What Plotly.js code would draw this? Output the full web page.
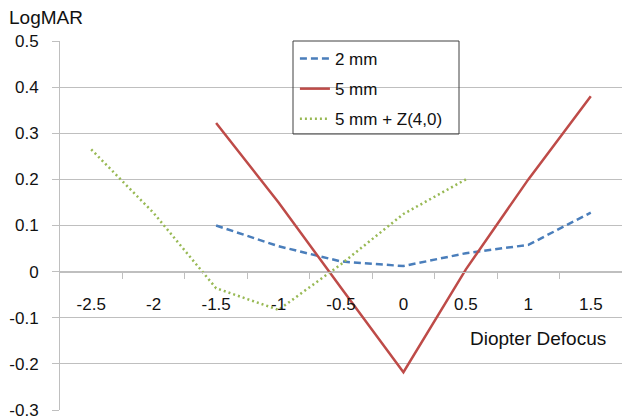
<!DOCTYPE html>
<html>
<head>
<meta charset="utf-8">
<script src="https://cdn.plot.ly/plotly-3.0.1.min.js"></script>
<style>html,body{margin:0;padding:0;background:#fff;}#chart{width:622px;height:419px;}</style>
</head>
<body>
<div id="chart"></div>
<script>
// Data
const defocus = [-2.5, -2, -1.5, -1, -0.5, 0, 0.5, 1, 1.5];
const xTickLabels = ['-2.5', '-2', '-1.5', '-1', '-0.5', '0', '0.5', '1', '1.5'];
const yTickVals = [-0.3, -0.2, -0.1, 0, 0.1, 0.2, 0.3, 0.4, 0.5];
const yTickLabels = ['-0.3', '-0.2', '-0.1', '0', '0.1', '0.2', '0.3', '0.4', '0.5'];
const defocus2mm = [-1.5, -1, -0.5, 0, 0.5, 1, 1.5];
const logmar2mm = [0.10, 0.055, 0.022, 0.012, 0.04, 0.058, 0.128];
const defocus5mm = [-1.5, -1, -0.5, 0, 0.5, 1, 1.5];
const logmar5mm = [0.322, 0.15, -0.035, -0.218, 0.005, 0.2, 0.38];
const defocusZ = [-2.5, -2, -1.5, -1, -0.5, 0, 0.5];
const logmarZ = [0.265, 0.127, -0.036, -0.083, 0.016, 0.125, 0.2];
const seriesNames = ['2 mm', '5 mm', '5 mm + Z(4,0)'];

const FONT = 'Liberation Sans, Arial, sans-serif';
const grid = '#bfbfbf';

const traces = [
  {x: defocus2mm, y: logmar2mm, name: seriesNames[0], mode: 'lines',
   line: {color: '#4a7ebb', width: 2.5, dash: '7px,4px'}},
  {x: defocus5mm, y: logmar5mm, name: seriesNames[1], mode: 'lines',
   line: {color: '#be4b48', width: 2.5}},
  {x: defocusZ, y: logmarZ, name: seriesNames[2], mode: 'lines',
   line: {color: '#98b954', width: 2.5, dash: '2px,3px'}}
];

const mids = [];
for (let i = 0; i < defocus.length - 1; i++) mids.push((defocus[i] + defocus[i+1]) / 2);

const layout = {
  width: 622, height: 419,
  margin: {l: 60, r: 0, t: 41, b: 9},
  paper_bgcolor: '#fff', plot_bgcolor: '#fff',
  font: {family: FONT, color: '#111', size: 17},
  showlegend: true,
  legend: {x: 0.418, y: 1.0, xanchor: 'left', yanchor: 'top',
    bgcolor: 'rgba(0,0,0,0)', borderwidth: 0, font: {size: 17, family: FONT},
    tracegroupgap: 5, traceorder: 'grouped'},
  xaxis: {
    range: [-2.75, 1.75], anchor: 'free', position: 0.375,
    tickmode: 'array', tickvals: defocus, ticktext: xTickLabels,
    ticks: '', showgrid: false, zeroline: false,
    showline: true, linecolor: grid, linewidth: 1,
    tickfont: {size: 17, family: FONT},
    ticklabelstandoff: 17,
    minor: {tickmode: 'array', tickvals: mids, ticks: 'outside', ticklen: 6, tickcolor: grid, showgrid: false}
  },
  yaxis: {
    range: [-0.3, 0.5],
    tickmode: 'array', tickvals: yTickVals, ticktext: yTickLabels,
    ticklabeloverflow: 'allow',
    showgrid: true, gridcolor: grid, gridwidth: 1,
    zeroline: false, showline: true, linecolor: grid, linewidth: 1,
    ticks: 'outside', ticklen: 7, tickcolor: grid,
    tickfont: {size: 17, family: FONT}, ticklabelstandoff: 10
  },
  shapes: [
    {type: 'rect', xref: 'paper', yref: 'paper', x0: (293-60)/562, x1: (459-60)/562, y0: (410-134)/369, y1: 1.0,
     line: {color: '#404040', width: 1}, fillcolor: 'rgba(0,0,0,0)', layer: 'above'}
  ],
  annotations: [
    {text: 'LogMAR', xref: 'paper', yref: 'paper', x: -53/562, y: (410-17)/369, xanchor: 'left', yanchor: 'middle',
     showarrow: false, font: {size: 19, family: FONT}},
    {text: 'Diopter Defocus', xref: 'paper', yref: 'paper', x: (608-60)/562, y: (410-338)/369, xanchor: 'right', yanchor: 'middle',
     showarrow: false, font: {size: 19, family: FONT}}
  ]
};
traces.forEach((t, i) => { t.legendgroup = 'g' + i; });

Plotly.newPlot('chart', traces, layout, {displayModeBar: false, staticPlot: true});
</script>
</body>
</html>
